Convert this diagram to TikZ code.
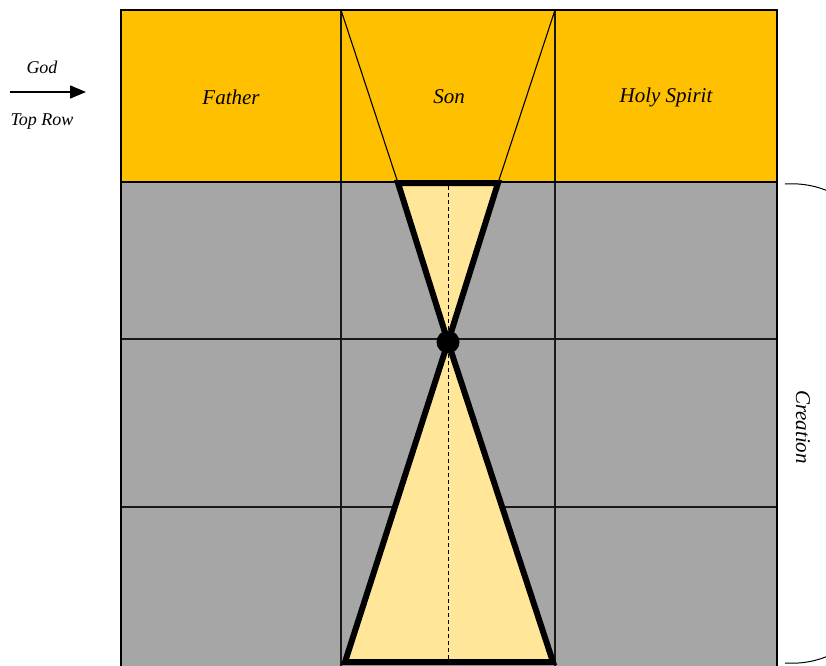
\documentclass[tikz,border=0pt]{standalone}
\usepackage{fontspec}
\setmainfont{Liberation Serif}
\usetikzlibrary{arrows.meta}
\definecolor{topyel}{HTML}{FFC000}
\definecolor{cgray}{HTML}{A6A6A6}
\definecolor{lyel}{HTML}{FFE699}
\begin{document}
\begin{tikzpicture}[x=1pt,y=-1pt,
  lbl/.style={font=\itshape\fontsize{21}{24}\selectfont, inner sep=0pt},
  side/.style={font=\itshape\fontsize{18}{21}\selectfont, inner sep=0pt},
  gridline/.style={line width=1.1pt, draw=black!90},
  heavy/.style={line width=6pt, line join=miter},
  border/.style={line width=2pt},
  ]
\useasboundingbox (0,0) rectangle (826,665);
\clip (0,0) rectangle (826,665);
% fills
\fill[topyel] (121,10) rectangle (777,182);
\fill[cgray] (121,182) rectangle (777,670);
% grid
\draw[gridline] (341,10) -- (341,670) (555,10) -- (555,670)
  (121,339) -- (777,339) (121,507) -- (777,507);
\draw[border] (121,182) -- (777,182);
% hourglass fills
\coordinate (ul) at (398,183);
\coordinate (ur) at (498,183);
\coordinate (mid) at (448,342);
\coordinate (bl) at (345,662);
\coordinate (br) at (553,662);
\fill[lyel] (ul) -- (ur) -- (mid) -- cycle;
\fill[lyel] (mid) -- (bl) -- (br) -- cycle;
\coordinate (dtop) at (448,186);
\coordinate (dbot) at (448,660);
\draw[dash pattern=on 4pt off 3pt, line width=1pt] (dtop) -- (dbot);
% thin trapezoid lines
\coordinate (tl) at (341,10);
\coordinate (tr) at (555,10);
\draw[line width=1.1pt] (tl) -- (ul) (tr) -- (ur);
% thick triangles
\draw[heavy] (ul) -- (ur) -- (mid) -- cycle;
\draw[heavy] (mid) -- (bl) -- (br) -- cycle;
\fill (mid) circle (11.5);
% outer border
\draw[border] (121,670) -- (121,10) -- (777,10) -- (777,670);
% texts
\node[lbl] (father) at (231,97) {Father};
\node[lbl] (son) at (449,97) {Son};
\node[lbl] (spirit) at (666,97) {Holy Spirit};
\node[side] (god) at (42,67) {God};
\node[side] (toprow) at (42,122) {Top Row};
\coordinate (as) at (10,92);
\coordinate (ae) at (86,92);
\draw[line width=1.5pt, -{Triangle[length=16pt,width=13pt]}] (as) -- (ae);
% bracket
\coordinate (bt) at (785,184);
\coordinate (bb) at (785,663);
\draw[line width=1pt] (bt) .. controls (880,178) and (920,300) .. (920,424)
  .. controls (920,548) and (880,669) .. (bb);
\node[lbl, rotate=-90] (creation) at (803,427) {Creation};
\end{tikzpicture}
\end{document}
